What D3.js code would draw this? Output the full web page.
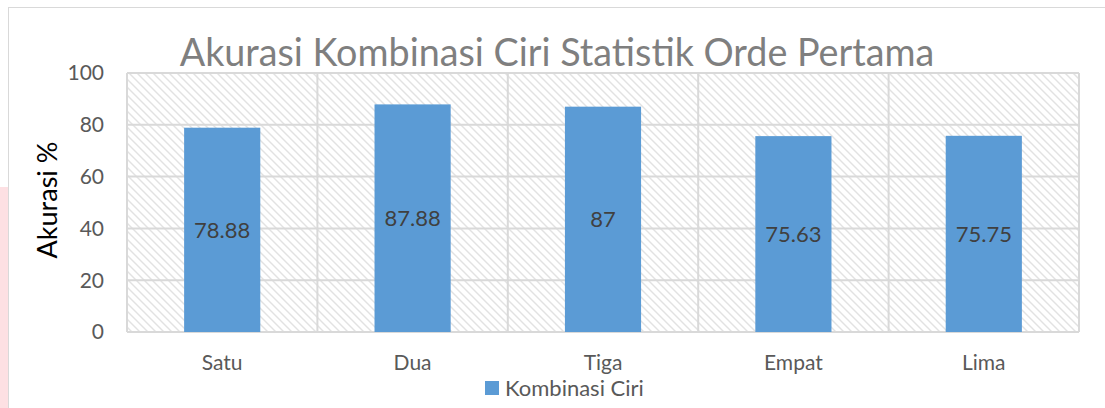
<!DOCTYPE html>
<html><head><meta charset="utf-8">
<script src="https://cdn.jsdelivr.net/npm/d3@7"></script>
<style>
html,body{margin:0;padding:0;background:#fff;}
text{font-family:Lato,"Open Sans",sans-serif;}
</style></head>
<body><svg id="c" width="1105" height="408"></svg>
<script>
const categories = ["Satu","Dua","Tiga","Empat","Lima"];
const values = [78.88, 87.88, 87, 75.63, 75.75];
const valueLabels = ["78.88","87.88","87","75.63","75.75"];
const yTicks = [0,20,40,60,80,100];
const seriesName = "Kombinasi Ciri";
const title = "Akurasi Kombinasi Ciri Statistik Orde Pertama";
const yTitle = "Akurasi %";

const svg = d3.select("#c");
// page decoration
svg.append("rect").attr("x",0).attr("y",187).attr("width",8).attr("height",221).attr("fill","#fde0e3");
svg.append("rect").attr("x",8.5).attr("y",7.5).attr("width",1110).attr("height",420).attr("fill","#fff").attr("stroke","#d9d9d9");

const defs = svg.append("defs");
const pat = defs.append("pattern").attr("id","hatch").attr("patternUnits","userSpaceOnUse")
  .attr("width",8).attr("height",8);
pat.append("rect").attr("width",8).attr("height",8).attr("fill","#fff");
pat.append("path").attr("d","M-2,-2 L10,10 M-6,2 L2,10 M6,-2 L10,2").attr("stroke","#e2e2e2").attr("stroke-width",1.4);

const L=127, R=1079, T=73, B=332;
const x = d3.scaleBand().domain(categories).range([L,R]).paddingInner(0).paddingOuter(0);
const y = d3.scaleLinear().domain([0,100]).range([B,T]);

svg.append("rect").attr("x",L).attr("y",T).attr("width",R-L).attr("height",B-T).attr("fill","url(#hatch)");

// horizontal gridlines
svg.append("g").selectAll("line").data(yTicks).join("line")
  .attr("x1",L).attr("x2",R).attr("y1",d=>y(d)).attr("y2",d=>y(d))
  .attr("stroke","#d9d9d9").attr("stroke-width",2);
// vertical gridlines at category boundaries
const bounds = categories.map(c=>x(c)).concat([R]);
svg.append("g").selectAll("line").data(bounds).join("line")
  .attr("x1",d=>d).attr("x2",d=>d).attr("y1",T).attr("y2",B)
  .attr("stroke","#d9d9d9").attr("stroke-width",2);

// bars
const bw = x.bandwidth()*0.4;
svg.append("g").selectAll("rect").data(values).join("rect")
  .attr("x",(d,i)=>x(categories[i])+x.bandwidth()/2-bw/2)
  .attr("y",d=>y(d)).attr("width",bw).attr("height",d=>y(0)-y(d))
  .attr("fill","#5b9bd5");
// data labels
svg.append("g").selectAll("text").data(values).join("text")
  .attr("x",(d,i)=>x(categories[i])+x.bandwidth()/2)
  .attr("y",d=>(y(d)+y(0))/2).attr("dy","0.35em")
  .attr("text-anchor","middle").attr("font-size",22).attr("fill","#404040")
  .text((d,i)=>valueLabels[i]);

// y axis ticks
svg.append("g").selectAll("text").data(yTicks).join("text")
  .attr("x",104).attr("y",d=>y(d)).attr("dy","0.35em")
  .attr("text-anchor","end").attr("font-size",21).attr("fill","#595959").text(d=>d);
// x labels
svg.append("g").selectAll("text").data(categories).join("text")
  .attr("x",d=>x(d)+x.bandwidth()/2).attr("y",370)
  .attr("text-anchor","middle").attr("font-size",21).attr("fill","#595959").text(d=>d);

// title
const t = svg.append("text").attr("x",557).attr("y",66).attr("text-anchor","middle")
  .attr("font-size",34).attr("fill","#7f7f7f").text(title);
const tw = t.node().getComputedTextLength();
t.attr("font-size",34*755/tw);

// y title
svg.append("text").attr("transform","translate(57,200) rotate(-90)").attr("text-anchor","middle")
  .attr("font-size",27).attr("fill","#000").text(yTitle);

// legend
svg.append("rect").attr("x",485).attr("y",381).attr("width",14).attr("height",14).attr("fill","#5b9bd5");
svg.append("text").attr("x",505).attr("y",396).attr("font-size",22).attr("fill","#595959").text(seriesName);
</script></body></html>
